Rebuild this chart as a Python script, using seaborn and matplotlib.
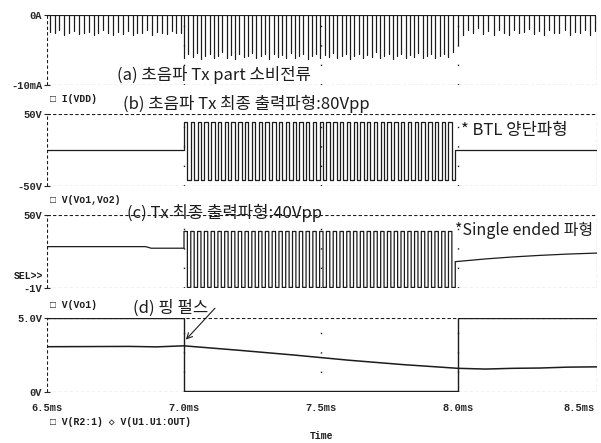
import numpy as np
import pandas as pd
import seaborn as sns
import matplotlib.pyplot as plt

# ---- data ----
# (a) supply current spikes, mA (depths of each spike)
pre_depth = [-2.4, -2.6, -2.2, -2.8, -2.5, -2.3, -2.7, -2.6, -2.4, -2.9, -2.5, -2.2, -2.6, -2.8,
             -2.4, -2.7, -2.3, -2.9, -2.5, -2.6, -2.2, -2.8, -2.4, -2.6, -2.7, -2.3, -2.5, -2.6]
burst_depth = [-6.1, -5.6, -6.0, -5.4, -6.3, -5.8, -5.5, -6.2, -5.9, -5.3, -6.1, -5.7, -6.3, -5.5,
               -6.0, -5.8, -5.4, -6.2, -5.9, -5.6, -6.3, -5.5, -6.0, -5.7, -6.1, -5.4, -6.2, -5.8,
               -5.6, -6.3, -5.9, -5.5, -6.1, -5.7, -6.0, -5.4, -6.2, -5.8, -5.6, -6.3, -5.9, -5.5,
               -6.1, -5.7, -6.0, -5.3, -6.2, -5.8, -5.6, -6.3, -5.9, -5.5, -6.1, -5.7, -6.0, -5.4,
               -6.2, -5.8, -5.6, -6.1, -5.9, -5.5, -6.0, -5.3]
post_depth = [-4.3, -2.8, -2.2, -2.6, -1.9, -2.7, -2.3, -2.9, -2.1, -2.5, -2.8, -2.2, -2.6, -2.4,
              -2.0, -2.7, -2.3, -2.9, -2.2, -2.6, -2.5, -2.1, -2.8, -2.4, -2.6, -2.2, -2.9, -2.3]

# (b) BTL output, V
burst_start, burst_end, burst_cycles = 7.0, 7.99, 40
btl_hi, btl_lo, btl_idle = 39.0, -42.0, 0.0

# (c) single ended output, V
se_pre_t = [6.5, 6.86, 6.88, 7.0]
se_pre_v = [27.9, 27.9, 26.8, 26.8]
se_hi, se_lo = 38.5, -0.6
se_rec_t = [7.99, 8.1, 8.2, 8.3, 8.4, 8.507]
se_rec_v = [17.4, 19.3, 20.7, 21.8, 22.7, 23.4]

# (d) ping pulse, V
r2_t = [6.5, 6.8, 6.9, 7.0, 7.2, 7.4, 7.6, 7.8, 8.0, 8.1, 8.2, 8.3, 8.4, 8.507]
r2_v = [3.06, 3.08, 3.05, 3.12, 2.82, 2.5, 2.15, 1.85, 1.6, 1.55, 1.6, 1.62, 1.68, 1.7]
out_t = [6.5, 7.0, 7.0, 8.0, 8.0, 8.507]
out_v = [5.0, 5.0, 0.05, 0.05, 5.0, 5.0]

x_ticks = [6.5, 7.0, 7.5, 8.0, 8.5]
x_labels = ['6.5ms', '7.0ms', '7.5ms', '8.0ms', '8.5ms']


def spikes(t0, t1, depths):
    ts = np.linspace(t0, t1, len(depths))
    z = np.zeros(len(depths))
    return np.repeat(ts, 3), np.column_stack([z, depths, z]).ravel()


def burst(t0, t1, n, hi, lo):
    edges = np.linspace(t0, t1, 2 * n + 1)
    levels = np.tile([hi, lo], n)
    return np.repeat(edges, 2)[1:-1], np.repeat(levels, 2)


sns.set_style("white")
plt.rcParams['font.family'] = ['Noto Sans CJK KR', 'DejaVu Sans']

W, H = 601, 443
fig = plt.figure(figsize=(W / 100, H / 100), dpi=100)
XMAX = 6.5 + 550 / 274.0
INK = '#1c1c1c'
MONO = ['Liberation Mono', 'DejaVu Sans Mono']


def panel(top, bottom, ylim, yt, ylab):
    ax = fig.add_axes([47 / W, 1 - bottom / H, 550 / W, (bottom - top) / H])
    ax.set_xlim(6.5, XMAX)
    ax.set_ylim(*ylim)
    for s in ax.spines.values():
        s.set_visible(False)
    for yv in ylim:
        ax.axhline(yv, color=INK, lw=0.8, ls=(0, (3, 2)), zorder=1)
    ax.axvline(6.5, color=INK, lw=0.8, ls=(0, (3, 2)), zorder=1)
    ax.axvline(XMAX, color=INK, lw=0.8, ls=(0, (3, 2)), zorder=1)
    for xv in [7.0, 7.5, 8.0]:
        ax.axvline(xv, color=INK, lw=1.0, ls=(0, (1, 13)), zorder=1)
    ax.set_yticks(yt)
    ax.set_yticklabels(ylab, family=MONO, fontweight='bold', fontsize=7.5)
    ax.tick_params(axis='y', direction='inout', length=5, width=0.8, pad=1, left=True)
    ax.set_xticks([])
    ax.set_xlabel('')
    ax.set_ylabel('')
    return ax


def draw(ax, x, y, lw=0.9):
    df = pd.DataFrame({'t': x, 'v': y})
    sns.lineplot(data=df, x='t', y='v', sort=False, estimator=None, color=INK,
                 lw=lw, ax=ax, legend=False)
    ax.set_xlabel('')
    ax.set_ylabel('')


# (a)
ax_a = panel(15, 85, (-10, 0), [0, -10], ['0A', '-10mA'])
segs = [spikes(6.51, 6.99, pre_depth), spikes(7.0, 7.98, burst_depth), spikes(8.0, 8.5, post_depth)]
xa = np.concatenate([s[0] for s in segs])
ya = np.concatenate([s[1] for s in segs])
draw(ax_a, xa, ya, lw=0.8)

# (b)
ax_b = panel(114, 186, (-50, 50), [50, -50], ['50V', '-50V'])
bx, by = burst(burst_start, burst_end, burst_cycles, btl_hi, btl_lo)
xb = np.concatenate([[6.5, burst_start], bx, [burst_end, XMAX]])
yb = np.concatenate([[btl_idle, btl_idle], by, [btl_idle, btl_idle]])
draw(ax_b, xb, yb)

# (c)
ax_c = panel(215, 288, (-1, 50), [50, -1], ['50V', '-1V'])
cx, cy = burst(burst_start, burst_end, burst_cycles, se_hi, se_lo)
xc = np.concatenate([se_pre_t, cx, se_rec_t])
yc = np.concatenate([se_pre_v, cy, se_rec_v])
draw(ax_c, xc, yc)

# (d)
ax_d = panel(318, 392, (0, 5), [5, 0], ['5.0V', '0V'])
draw(ax_d, out_t, out_v, lw=1.0)
draw(ax_d, r2_t, r2_v, lw=1.1)
ax_d.set_xticks(x_ticks)
ax_d.set_xticklabels(x_labels, family=MONO, fontweight='bold', fontsize=7.5)
ax_d.get_xticklabels()[-1].set_horizontalalignment('right')
ax_d.tick_params(axis='x', length=0, pad=8)
ax_d.annotate('', xy=(7.0, 3.4), xytext=(7.12, 5.8), annotation_clip=False,
              arrowprops=dict(arrowstyle='->', color=INK, lw=0.8))


def ftxt(x, y, s, **kw):
    kw.setdefault('color', INK)
    fig.text(x / W, 1 - y / H, s, va='center', ha=kw.pop('ha', 'left'), **kw)


kr = dict(fontsize=12)
ftxt(117, 75, '(a) 초음파 Tx part 소비전류', **kr)
ftxt(123, 104, '(b) 초음파 Tx 최종 출력파형:80Vpp', **kr)
ftxt(461, 130, '* BTL 양단파형', **kr)
ftxt(127, 213, '(c) Tx 최종 출력파형:40Vpp', **kr)
ftxt(455, 230, '*Single ended 파형', fontsize=11.5)
ftxt(133, 308, '(d) 핑 펄스', **kr)

mono = dict(family=MONO + ['DejaVu Sans'], fontsize=7, fontweight='bold')
ftxt(50, 99, '□ I(VDD)', **mono)
ftxt(50, 200, '□ V(Vo1,Vo2)', **mono)
ftxt(50, 305, '□ V(Vo1)', **mono)
ftxt(50, 422, '□ V(R2:1) ◇ V(U1.U1:OUT)', **mono)
ftxt(43, 276, 'SEL>>', ha='right', **mono)
ftxt(321, 436, 'Time', ha='center', **mono)

fig.savefig('out.png', dpi=100)
